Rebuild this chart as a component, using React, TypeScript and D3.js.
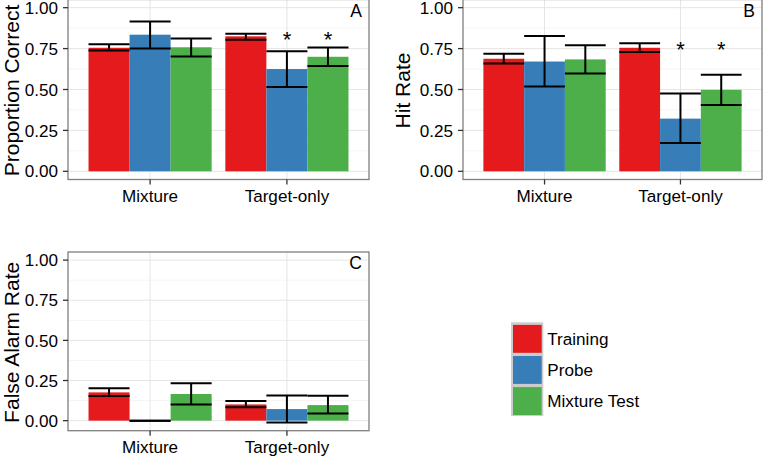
import React from "react";
import * as d3 from "d3";

const categories = ["Mixture", "Target-only"];
const conditions = ["Training", "Probe", "Mixture Test"];
const colors = ["#E41A1C", "#377EB8", "#4DAF4A"];
const yTicks = [0, 0.25, 0.5, 0.75, 1];
const yTickLabels = ["0.00", "0.25", "0.50", "0.75", "1.00"];
const yMinorTicks = [0.125, 0.375, 0.625, 0.875];

// Panel A: Proportion Correct  [category][condition]
const pcMean = [[0.755, 0.835, 0.758], [0.825, 0.625, 0.700]];
const pcLower = [[0.738, 0.751, 0.702], [0.804, 0.516, 0.643]];
const pcUpper = [[0.776, 0.916, 0.812], [0.841, 0.733, 0.757]];
// Panel B: Hit Rate
const hrMean = [[0.688, 0.671, 0.684], [0.755, 0.322, 0.498]];
const hrLower = [[0.659, 0.518, 0.598], [0.729, 0.173, 0.406]];
const hrUpper = [[0.718, 0.827, 0.771], [0.782, 0.475, 0.590]];
// Panel C: False Alarm Rate
const faMean = [[0.176, 0.0, 0.166], [0.101, 0.072, 0.097]];
const faLower = [[0.153, 0.0, 0.101], [0.083, -0.012, 0.045]];
const faUpper = [[0.202, 0.0, 0.233], [0.122, 0.157, 0.155]];

// significance markers: [category index, condition index]
const pcStars = [[1, 1], [1, 2]];
const pcStarY = 0.845;
const hrStars = [[1, 1], [1, 2]];
const hrStarY = 0.782;

const FONT = "'Liberation Sans', Arial, Helvetica, sans-serif";
const TICK_FS = 17.1;
const TITLE_FS = 21;

type PanelProps = {
  x0: number; x1: number; y0: number; y1: number;
  mean: number[][]; lower: number[][]; upper: number[][];
  title: string; label: string; titleX: number;
  stars?: number[][]; starY?: number;
};

function Panel(p: PanelProps) {
  const allLow = d3.min(p.lower.flat()) as number;
  const lo = Math.min(0, allLow);
  const hi = 1;
  const pad = (hi - lo) * 0.05;
  const y = d3.scaleLinear().domain([lo - pad, hi + pad]).range([p.y1, p.y0]);
  const x = d3.scaleBand<string>().domain(categories).range([p.x0, p.x1]).paddingInner(0.1).paddingOuter(0.15);
  const xs = d3.scaleBand<string>().domain(conditions).range([0, x.bandwidth()]).padding(0);
  const cy = (p.y0 + p.y1) / 2 + 1;
  return (
    <g>
      <rect x={p.x0} y={p.y0} width={p.x1 - p.x0} height={p.y1 - p.y0} fill="#fff" />
      {yMinorTicks.map((t) => (
        <line key={"mn" + t} x1={p.x0} x2={p.x1} y1={y(t)} y2={y(t)} stroke="#f3f3f3" strokeWidth={0.8} />
      ))}
      {yTicks.map((t) => (
        <line key={"mj" + t} x1={p.x0} x2={p.x1} y1={y(t)} y2={y(t)} stroke="#e5e5e5" strokeWidth={1} />
      ))}
      {categories.map((c) => (
        <line key={"vg" + c} x1={x(c)! + x.bandwidth() / 2} x2={x(c)! + x.bandwidth() / 2} y1={p.y0} y2={p.y1} stroke="#e5e5e5" strokeWidth={1} />
      ))}
      {categories.map((c, ci) =>
        conditions.map((k, ki) => {
          const bx = x(c)! + xs(k)!;
          const v = p.mean[ci][ki];
          return (
            <rect key={"b" + ci + ki} x={bx} y={Math.min(y(v), y(0))} width={xs.bandwidth()}
              height={Math.abs(y(0) - y(v))} fill={colors[ki]} />
          );
        })
      )}
      {categories.map((c, ci) =>
        conditions.map((k, ki) => {
          const bx = x(c)! + xs(k)!;
          const w = xs.bandwidth();
          const mx = bx + w / 2;
          const u = y(p.upper[ci][ki]);
          const l = y(p.lower[ci][ki]);
          return (
            <g key={"e" + ci + ki} stroke="#000" strokeWidth={2}>
              <line x1={bx} x2={bx + w} y1={u} y2={u} />
              <line x1={bx} x2={bx + w} y1={l} y2={l} />
              <line x1={mx} x2={mx} y1={u} y2={l} />
            </g>
          );
        })
      )}
      {(p.stars || []).map(([ci, ki], i) => (
        <text key={"s" + i} x={x(categories[ci])! + xs(conditions[ki])! + xs.bandwidth() / 2}
          y={y(p.starY!)} dy="0.62em" textAnchor="middle" fontFamily={FONT} fontSize={22} fill="#000">*</text>
      ))}
      <rect x={p.x0} y={p.y0} width={p.x1 - p.x0} height={p.y1 - p.y0} fill="none" stroke="#7f7f7f" strokeWidth={1.3} />
      <text x={p.x1 - 7} y={p.y0 + 17} textAnchor="end" fontFamily={FONT} fontSize={17.5} fill="#000">{p.label}</text>
      {yTicks.map((t, i) => (
        <g key={"yt" + t}>
          <line x1={p.x0 - 5} x2={p.x0} y1={y(t)} y2={y(t)} stroke="#333" strokeWidth={1.3} />
          <text x={p.x0 - 10} y={y(t)} dy="0.36em" textAnchor="end" fontFamily={FONT} fontSize={TICK_FS} fill="#000">{yTickLabels[i]}</text>
        </g>
      ))}
      {categories.map((c) => (
        <g key={"xt" + c}>
          <line x1={x(c)! + x.bandwidth() / 2} x2={x(c)! + x.bandwidth() / 2} y1={p.y1} y2={p.y1 + 5} stroke="#333" strokeWidth={1.3} />
          <text x={x(c)! + x.bandwidth() / 2} y={p.y1 + 22.5} textAnchor="middle" fontFamily={FONT} fontSize={TICK_FS} fill="#000">{c}</text>
        </g>
      ))}
      <text transform={`translate(${p.titleX},${cy}) rotate(-90)`} textAnchor="middle" fontFamily={FONT} fontSize={TITLE_FS} fill="#000">{p.title}</text>
    </g>
  );
}

function Legend() {
  const lx = 511, ly = 322.3, kw = 32.3, kh = 31.1;
  return (
    <g>
      <rect x={lx} y={ly} width={kw} height={kh * conditions.length + 0.4} fill="#cccccc" />
      {conditions.map((c, i) => (
        <g key={c}>
          <rect x={lx + 2} y={ly + 2.6 + i * kh} width={kw - 3.6} height={kh - 3.2} fill={colors[i]} />
          <text x={lx + 36.3} y={ly + kh / 2 + i * kh + 1} dy="0.36em" fontFamily={FONT} fontSize={TICK_FS} fill="#000">{c}</text>
        </g>
      ))}
    </g>
  );
}

export default function App() {
  return (
    <svg width={764} height={457} style={{ position: "fixed", left: 0, top: 0, background: "#fff" }}>
      <rect x={0} y={0} width={764} height={457} fill="#fff" />
      <Panel x0={68} x1={369} y0={-0.5} y1={179.5} mean={pcMean} lower={pcLower} upper={pcUpper}
        title="Proportion Correct" label="A" titleX={19} stars={pcStars} starY={pcStarY} />
      <Panel x0={463} x1={762} y0={-0.5} y1={179.5} mean={hrMean} lower={hrLower} upper={hrUpper}
        title="Hit Rate" label="B" titleX={410} stars={hrStars} starY={hrStarY} />
      <Panel x0={68} x1={369} y0={252} y1={430.7} mean={faMean} lower={faLower} upper={faUpper}
        title="False Alarm Rate" label="C" titleX={19} />
      <Legend />
    </svg>
  );
}
